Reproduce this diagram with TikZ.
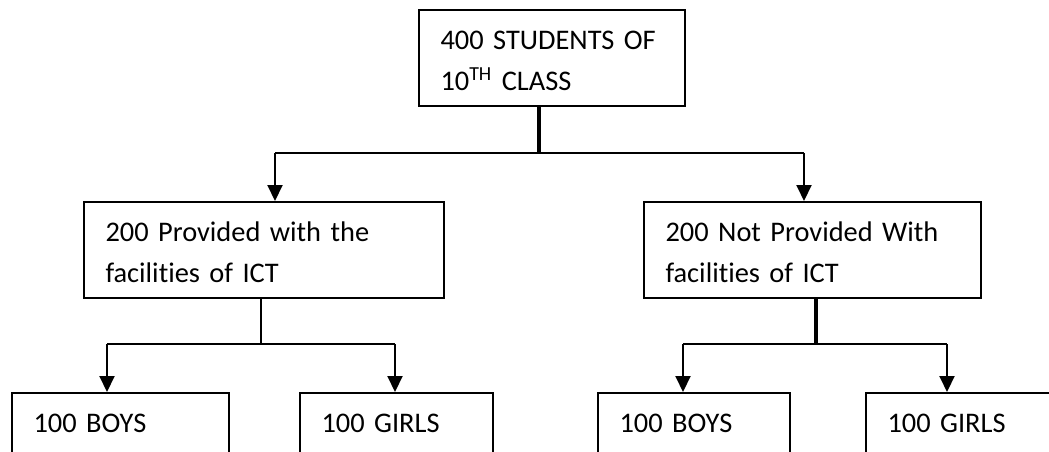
\documentclass[tikz,border=0pt]{standalone}
\usepackage{fontspec}
\setmainfont{Carlito}[Ligatures=NoCommon]
\usetikzlibrary{arrows.meta}

\begin{document}
\begin{tikzpicture}[x=0.5pt, y=-0.5pt,
  every node/.style={font=\fontsize{14.2}{20.5}\selectfont},
  box/.style={draw, line width=1pt, anchor=north west, align=left,
    inner xsep=10.75pt, inner ysep=0pt, text height=19.75pt, text depth=28.25pt},
  link/.style={line width=1pt},
  stem/.style={line width=2pt},
  arr/.style={line width=1pt, -{Triangle[width=7.5pt, length=8pt]}}]
  \useasboundingbox (0,0) rectangle (1049,451);
  \clip (0,0) rectangle (1049,451);

  % Whole class
  \node[box, text width=111.5pt] (total) at (418,9) {400 STUDENTS OF\\10\textsuperscript{TH} CLASS};

  % Groups
  \node[box, text width=158.5pt] (withict) at (83,201) {200 Provided with the\\facilities of ICT};
  \node[box, text width=147pt] (withoutict) at (643,201) {200 Not Provided With\\facilities of ICT};

  % Boys and girls
  \node[box, text width=87pt] (boysa) at (11,392) {100 BOYS};
  \node[box, text width=75pt] (girlsa) at (299,392) {100 GIRLS};
  \node[box, text width=74.5pt] (boysb) at (597,392) {100 BOYS};
  \node[box, text width=80pt] (girlsb) at (865,392) {100 GIRLS};

  % Branch points
  \coordinate (split) at (539,153);
  \coordinate (tolefta) at (275,153);
  \coordinate (toright) at (804,153);
  \coordinate (lsplit) at (261,344);
  \coordinate (lboys) at (107,344);
  \coordinate (lgirls) at (395,344);
  \coordinate (rsplit) at (816,344);
  \coordinate (rboys) at (683,344);
  \coordinate (rgirls) at (947,344);

  % First level
  \draw[stem] (total.south -| split) -- (split);
  \draw[link] (tolefta) -- (toright);
  \draw[arr] (tolefta) -- (tolefta |- withict.north);
  \draw[arr] (toright) -- (toright |- withoutict.north);

  % Second level
  \draw[link] (withict.south -| lsplit) -- (lsplit);
  \draw[link] (lboys) -- (lgirls);
  \draw[arr] (lboys) -- (lboys |- boysa.north);
  \draw[arr] (lgirls) -- (lgirls |- girlsa.north);
  \draw[stem] (withoutict.south -| rsplit) -- (rsplit);
  \draw[link] (rboys) -- (rgirls);
  \draw[arr] (rboys) -- (rboys |- boysb.north);
  \draw[arr] (rgirls) -- (rgirls |- girlsb.north);
\end{tikzpicture}
\end{document}
